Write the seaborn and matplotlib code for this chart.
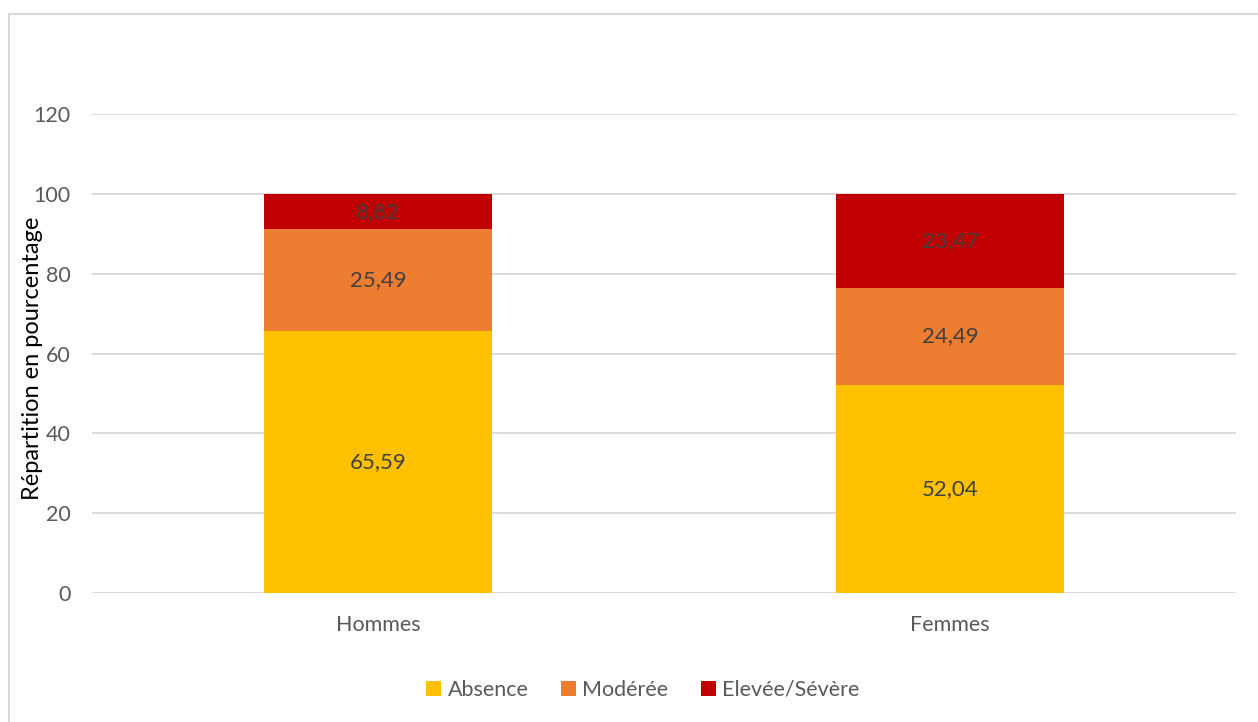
import matplotlib
matplotlib.use("Agg")
import matplotlib.pyplot as plt
import seaborn as sns
import numpy as np
import pandas as pd
from matplotlib.lines import Line2D
from matplotlib.patches import Patch

categories = ["Hommes", "Femmes"]
absence = [65.59, 52.04]
moderee = [25.49, 24.49]
elevee = [8.82, 23.47]
series_names = ["Absence", "Modérée", "Elevée/Sévère"]
colors = ["#FFC000", "#ED7D31", "#C00000"]
yticks = [0, 20, 40, 60, 80, 100, 120]

sns.set_style("white")
plt.rcParams['font.family'] = ['Lato', 'DejaVu Sans']

fig = plt.figure(figsize=(12.58, 7.22), dpi=100)
ax = fig.add_axes([92/1258, 1-593/722, (1236-92)/1258, (593-114)/722])

abs_a = np.array(absence)
mod_a = np.array(moderee)
ele_a = np.array(elevee)
cum1 = abs_a
cum2 = abs_a + mod_a
cum3 = abs_a + mod_a + ele_a

df = pd.DataFrame({"cat": categories, "c1": cum1, "c2": cum2, "c3": cum3})
for col, c in zip(["c3", "c2", "c1"], [colors[2], colors[1], colors[0]]):
    sns.barplot(data=df, x="cat", y=col, color=c, width=0.4, ax=ax,
                saturation=1, linewidth=0, zorder=3)

bottoms = [np.zeros(2), cum1, cum2]
for vals, bot in zip([abs_a, mod_a, ele_a], bottoms):
    for i, (v, b) in enumerate(zip(vals, bot)):
        ax.text(i, b + v/2, f"{v:.2f}".replace(".", ","), ha="center", va="center",
                fontsize=16, color="#404040", zorder=5)

ax.set_ylim(0, 120)
ax.set_xlim(-0.5, 1.5)
ax.set_yticks(yticks)
ax.set_yticklabels([str(t) for t in yticks])
ax.yaxis.grid(True, color="#D9D9D9", linewidth=1.3, zorder=0)
ax.set_axisbelow(True)
for s in ax.spines.values():
    s.set_visible(False)
ax.tick_params(axis="both", length=0, labelsize=15.5, colors="#595959")
ax.tick_params(axis="y", pad=15.5)
ax.tick_params(axis="x", pad=16)
ax.set_xlabel("")
ax.set_ylabel("Répartition en pourcentage", fontsize=17, color="#000000")
ax.yaxis.set_label_coords((43 - 92) / 1144, 0.49)

handles = [Patch(facecolor=c, edgecolor="none") for c in colors]
fig.legend(handles, series_names, loc="center", bbox_to_anchor=(643/1258, 1-690/722),
           ncol=3, frameon=False, fontsize=15.5, labelcolor="#595959",
           handlelength=0.7, handleheight=0.7, handletextpad=0.3, columnspacing=1.5)

# chart border (cropped)
fig.add_artist(Line2D([9/1258, 9/1258], [0, 1-14/722], color="#D9D9D9", linewidth=1.5,
                      transform=fig.transFigure))
fig.add_artist(Line2D([9/1258, 1], [1-14/722, 1-14/722], color="#D9D9D9", linewidth=1.5,
                      transform=fig.transFigure))

fig.savefig("out.png", dpi=100)
